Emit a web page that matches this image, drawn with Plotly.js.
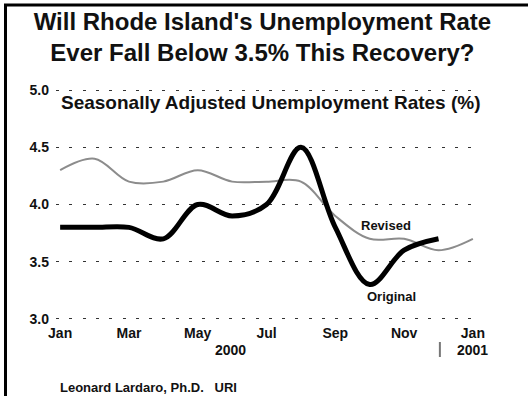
<!DOCTYPE html>
<html>
<head>
<meta charset="utf-8">
<script src="https://cdn.plot.ly/plotly-3.0.1.min.js"></script>
<style>
  html, body { margin: 0; padding: 0; background: #fff; }
  #chart { width: 528px; height: 396px; }
</style>
</head>
<body>
<div id="chart"></div>
<script>
// ---- data ----
const monthIndex = [0, 1, 2, 3, 4, 5, 6, 7, 8, 9, 10, 11, 12];
const tickPositions = [0, 2, 4, 6, 8, 10, 12];
const tickLabels = ['Jan', 'Mar', 'May', 'Jul', 'Sep', 'Nov', 'Jan'];
const revisedRates = [4.3, 4.4, 4.2, 4.2, 4.3, 4.2, 4.2, 4.2, 3.9, 3.7, 3.7, 3.6, 3.7];
const originalRates = [3.8, 3.8, 3.8, 3.7, 4.0, 3.9, 4.0, 4.5, 3.8, 3.3, 3.6, 3.7];
const yTickValues = [3.0, 3.5, 4.0, 4.5, 5.0];
const yTickLabels = ['3.0', '3.5', '4.0', '4.5', '5.0'];

// ---- layout geometry ----
const W = 528, H = 396;
const M = { l: 56, r: 52, t: 89, b: 76 };
const plotW = W - M.l - M.r, plotH = H - M.t - M.b;
const px = x => (x - M.l) / plotW;            // pixel x -> paper x
const py = y => (H - M.b - y) / plotH;        // pixel y -> paper y

const FONT = 'Liberation Sans, Arial, Helvetica, sans-serif';
const INK = '#111111';

const traces = [
  {
    x: monthIndex.slice(0, revisedRates.length), y: revisedRates,
    type: 'scatter', mode: 'lines', name: 'Revised',
    line: { color: '#8c8c8c', width: 2, shape: 'spline', smoothing: 1 },
    hoverinfo: 'skip'
  },
  {
    x: monthIndex.slice(0, originalRates.length), y: originalRates,
    type: 'scatter', mode: 'lines', name: 'Original',
    line: { color: '#000000', width: 5, shape: 'spline', smoothing: 1 },
    hoverinfo: 'skip'
  }
];

const layout = {
  width: W, height: H,
  margin: M,
  paper_bgcolor: '#ffffff', plot_bgcolor: '#ffffff',
  showlegend: false,
  font: { family: FONT, color: INK, weight: 'bold' },
  title: {
    text: "Will Rhode Island's Unemployment Rate<br>Ever Fall Below 3.5% This Recovery?",
    font: { family: FONT, size: 24, color: INK, weight: 'bold' },
    x: 0.497, xref: 'container', xanchor: 'center',
    y: 0.924, yref: 'container', yanchor: 'top'
  },
  xaxis: {
    range: [-0.12, 12.09],
    tickmode: 'array', tickvals: tickPositions, ticktext: tickLabels,
    showgrid: false, zeroline: false, showline: false,
    ticks: '', ticklabelstandoff: 3,
    tickfont: { family: FONT, size: 14, color: INK, weight: 'bold' },
    fixedrange: true
  },
  yaxis: {
    range: [2.99, 5.01],
    tickmode: 'array', tickvals: yTickValues, ticktext: yTickLabels,
    showgrid: true, gridcolor: '#333333', gridwidth: 1, griddash: '3px,10.3px',
    zeroline: false, showline: false, ticks: '', ticklabelstandoff: 6,
    tickfont: { family: FONT, size: 14, color: INK, weight: 'bold' },
    fixedrange: true
  },
  annotations: [
    { text: 'Seasonally Adjusted Unemployment Rates (%)', xref: 'paper', yref: 'paper',
      x: px(271), y: py(102), xanchor: 'center', yanchor: 'middle', showarrow: false,
      font: { family: FONT, size: 19, color: INK, weight: 'bold' } },
    { text: 'Revised', xref: 'x', yref: 'paper', x: 9.47, y: py(225),
      xanchor: 'center', yanchor: 'middle', showarrow: false,
      font: { family: FONT, size: 13, color: INK, weight: 'bold' } },
    { text: 'Original', xref: 'x', yref: 'paper', x: 9.62, y: py(296),
      xanchor: 'center', yanchor: 'middle', showarrow: false,
      font: { family: FONT, size: 13, color: INK, weight: 'bold' } },
    { text: '2000', xref: 'x', yref: 'paper', x: 4.94, y: py(349.5),
      xanchor: 'center', yanchor: 'middle', showarrow: false,
      font: { family: FONT, size: 14, color: INK, weight: 'bold' } },
    { text: '2001', xref: 'x', yref: 'paper', x: 12.0, y: py(349.5),
      xanchor: 'center', yanchor: 'middle', showarrow: false,
      font: { family: FONT, size: 14, color: INK, weight: 'bold' } },
    { text: 'Leonard Lardaro, Ph.D.&nbsp;&nbsp;&nbsp;URI', xref: 'paper', yref: 'paper',
      x: px(58), y: py(387), xanchor: 'left', yanchor: 'middle', showarrow: false,
      font: { family: FONT, size: 13, color: INK, weight: 'bold' } }
  ],
  shapes: [
    // frame: left and top borders
    { type: 'line', xref: 'paper', yref: 'paper', x0: px(5.5), x1: px(5.5), y0: py(4), y1: py(H + 2),
      line: { color: '#000', width: 3 } },
    { type: 'line', xref: 'paper', yref: 'paper', x0: px(4), x1: px(W + 2), y0: py(5), y1: py(5),
      line: { color: '#000', width: 3 } },
    // year separator tick
    { type: 'line', xref: 'x', yref: 'paper', x0: 11.04, x1: 11.04, y0: py(342), y1: py(357),
      line: { color: '#777', width: 2 } }
  ]
};

Plotly.newPlot('chart', traces, layout, { staticPlot: true, displayModeBar: false });
</script>
</body>
</html>
